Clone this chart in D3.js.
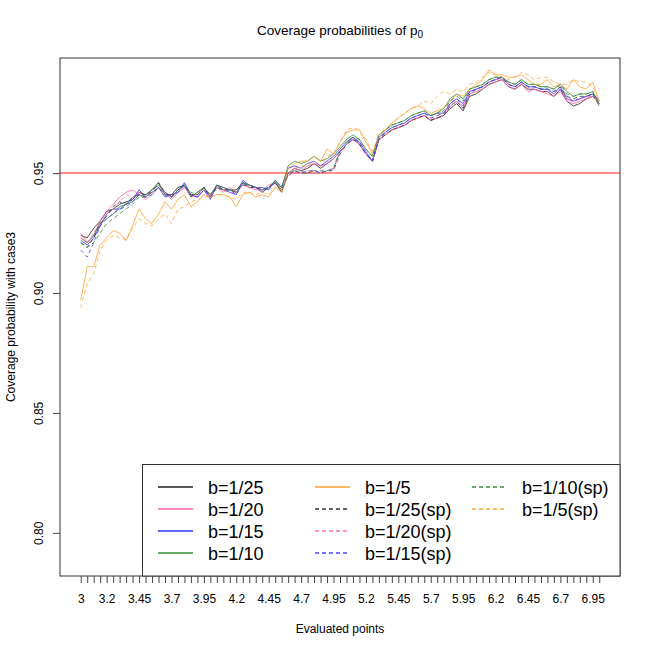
<!DOCTYPE html>
<html><head><meta charset="utf-8">
<script src="https://cdn.jsdelivr.net/npm/d3@7"></script>
<style>body{margin:0;background:#fff}svg{display:block;font-family:"Liberation Sans",Arial,Helvetica,sans-serif}</style>
</head><body>
<svg id="c" width="650" height="650"></svg>
<script>
const evalPoints = [3,3.05,3.1,3.15,3.2,3.25,3.3,3.35,3.4,3.45,3.5,3.55,3.6,3.65,3.7,3.75,3.8,3.85,3.9,3.95,
4,4.05,4.1,4.15,4.2,4.25,4.3,4.35,4.4,4.45,4.5,4.55,4.6,4.65,4.7,4.75,4.8,4.85,4.9,4.95,
5,5.05,5.1,5.15,5.2,5.25,5.3,5.35,5.4,5.45,5.5,5.55,5.6,5.65,5.7,5.75,5.8,5.85,5.9,5.95,
6,6.05,6.1,6.15,6.2,6.25,6.3,6.35,6.4,6.45,6.5,6.55,6.6,6.65,6.7,6.75,6.8,6.85,6.9,6.95,7];
const xTickLabels = ["3","3.2","3.45","3.7","3.95","4.2","4.45","4.7","4.95","5.2","5.45","5.7","5.95","6.2","6.45","6.7","6.95"];
const yTicks = [0.80,0.85,0.90,0.95];
const yTickLabels = ["0.80","0.85","0.90","0.95"];

// values in thousandths (value = n/1000)
const b25 = [924,923,927,930,934,935,937,938,939,942,941,943,946,941,941,944,945,940,942,944,940,945,944,943,943,946,944,944,942,944,946,942,950,952,951,952,954,952,954,956,959,962,965,962,958,955,964,966,968,969,970,972,973,974,972,973,974,977,979,976,982,983,985,987,988,989,986,985,987,985,985,984,984,982,985,980,978,979,981,982,979];
const b20 = [925,921,924,930,934,937,940,942,943,941,939,941,944,942,939,942,944,941,940,943,941,944,942,944,942,945,944,943,943,945,946,944,950,952,951,953,954,953,954,956,959,962,964,962,958,955,964,966,968,969,970,972,973,974,972,973,974,978,980,977,983,984,985,987,988,989,986,985,987,984,985,984,983,982,984,980,979,980,981,982,979];
const b15 = [922,920,923,928,933,935,935,937,939,943,940,942,944,940,941,942,946,941,940,943,939,945,943,942,941,947,945,944,944,943,947,944,952,953,952,954,955,953,955,957,960,963,965,963,959,955,965,967,969,970,971,973,974,975,974,975,975,979,981,979,984,985,986,988,989,990,987,986,988,986,986,985,985,983,986,981,980,981,982,983,980];
const b10 = [923,921,924,929,931,933,936,937,938,941,940,943,945,942,940,943,945,941,941,944,941,945,943,943,942,946,945,944,943,944,947,944,953,955,954,955,957,955,956,958,961,964,966,964,960,957,966,968,970,971,972,974,975,976,974,975,977,981,983,981,985,986,987,989,990,990,988,987,989,987,987,986,986,985,987,984,982,983,983,984,979];
const b5 = [897,911,911,920,923,926,925,922,928,935,931,929,933,938,935,939,941,936,938,941,940,941,941,940,936,941,942,940,941,940,944,942,952,954,955,955,957,955,960,958,963,967,968,968,963,958,965,968,971,973,975,977,978,977,975,976,977,980,983,982,985,987,989,993,991,991,990,990,991,989,987,987,989,986,987,985,989,986,985,988,980];
const b25sp = [921,919,923,929,932,936,938,937,940,941,941,942,946,942,940,943,945,941,941,944,940,944,943,943,942,945,945,944,943,944,946,943,949,951,950,950,951,950,951,951,958,962,964,962,958,955,964,966,968,969,970,972,973,974,972,973,974,978,980,977,983,985,986,988,989,990,987,986,988,986,986,985,985,984,986,982,981,982,982,983,978];
const b20sp = [923,921,925,930,933,935,938,941,940,942,940,942,944,941,940,942,944,940,941,943,940,944,943,942,942,945,944,944,943,944,946,943,949,950,950,951,950,951,950,951,959,962,964,962,958,955,964,966,968,969,970,972,973,974,973,974,975,978,980,978,983,984,986,988,989,989,987,986,987,985,985,984,984,983,985,981,980,981,982,982,979];
const b15sp = [918,915,921,928,931,933,935,936,938,941,940,941,944,941,940,942,945,941,940,943,940,944,943,943,941,946,945,944,943,944,946,943,950,951,950,951,951,950,951,952,959,962,964,963,958,955,964,967,969,970,971,973,974,975,973,974,975,979,981,978,984,985,986,988,989,990,987,986,988,986,986,985,985,984,985,982,980,981,982,983,980];
const b10sp = [921,919,921,925,929,931,933,935,937,940,940,942,944,941,940,943,945,942,941,944,941,945,943,943,942,946,945,944,943,944,946,943,950,951,951,950,951,951,951,952,960,963,965,964,960,957,966,968,970,971,972,974,975,976,974,975,976,980,982,980,985,986,987,989,990,990,988,987,989,987,987,986,986,985,987,983,982,983,983,984,978];
const b5sp = [894,904,908,918,922,924,923,922,927,931,929,928,931,933,929,935,936,938,939,940,940,941,941,940,939,942,942,941,942,941,944,943,950,952,953,953,955,953,957,958,963,968,969,968,964,959,966,968,971,973,975,977,978,980,979,982,984,983,985,984,987,988,990,992,991,990,989,990,992,991,989,990,990,988,987,987,989,988,988,986,980];

const seriesNames = ["b=1/25","b=1/20","b=1/15","b=1/10","b=1/5","b=1/25(sp)","b=1/20(sp)","b=1/15(sp)","b=1/10(sp)","b=1/5(sp)"];
const seriesData = [b25,b20,b15,b10,b5,b25sp,b20sp,b15sp,b10sp,b5sp];
const seriesColors = ["#222222","#ff5fa8","#3535ff","#2e8b2e","#ffa030",
  "#333333","#ff6fb4","#4545ff","#3a8a3a","#ffa840"];
const seriesDashed = [false,false,false,false,false,true,true,true,true,true];
const refLevel = 0.95;

const svg = d3.select("#c");
const L=60,R=620,T=58,B=576;
const x = d3.scaleLinear().domain([2.84,7.16]).range([L,R]);
const y = d3.scaleLinear().domain([0.782,0.998]).range([B,T]);

svg.append("defs").append("clipPath").attr("id","clip").append("rect")
  .attr("x",L).attr("y",T).attr("width",R-L).attr("height",B-T);

// reference line
svg.append("line").attr("x1",L).attr("x2",R).attr("y1",y(refLevel)).attr("y2",y(refLevel))
  .attr("stroke","rgba(255,0,0,0.45)").attr("stroke-width",2);

const line = d3.line().x((d,i)=>x(evalPoints[i])).y(d=>y(d/1000));
const g = svg.append("g").attr("clip-path","url(#clip)");
seriesData.forEach((s,k)=>{
  g.append("path").datum(s).attr("d",line).attr("fill","none")
    .attr("stroke",seriesColors[k]).attr("stroke-opacity",0.8).attr("stroke-width",1)
    .attr("stroke-dasharray",seriesDashed[k]?"4,3":null);
});

// box
svg.append("rect").attr("x",L).attr("y",T).attr("width",R-L).attr("height",B-T)
  .attr("fill","none").attr("stroke","#333").attr("stroke-width",1);

// x axis
const labelSet = new Set(xTickLabels);
const xAxis = d3.axisBottom(x).tickValues(evalPoints).tickSize(7).tickPadding(11)
  .tickFormat(d=>{const s=String(+d.toFixed(2)); return labelSet.has(s)?s:"";});
const gx = svg.append("g").attr("transform",`translate(0,${B})`).call(xAxis);
gx.select(".domain").remove();
gx.selectAll(".tick line").attr("stroke","#444");
gx.selectAll("text").attr("font-size",12).attr("fill","#000").attr("font-family","Liberation Sans, Arial, sans-serif");

// y axis
const yAxis = d3.axisLeft(y).tickValues(yTicks).tickSize(7).tickFormat((d,i)=>yTickLabels[i]);
const gy = svg.append("g").attr("transform",`translate(${L},0)`).call(yAxis);
gy.select(".domain").remove();
gy.selectAll(".tick line").attr("stroke","#444");
gy.selectAll("text").attr("font-size",12).attr("fill","#000").attr("font-family","Liberation Sans, Arial, sans-serif")
  .attr("text-anchor","middle").attr("x",0).attr("dy",0)
  .attr("transform","translate(-17,0) rotate(-90)");

// titles
const title = svg.append("text").attr("x",(L+R)/2).attr("y",35).attr("text-anchor","middle")
  .attr("font-size",13.5).attr("fill","#000");
title.append("tspan").text("Coverage probabilities of p");
title.append("tspan").attr("font-size",10).attr("dy",3).text("0");

svg.append("text").attr("x",(L+R)/2).attr("y",633).attr("text-anchor","middle")
  .attr("font-size",12).text("Evaluated points");
svg.append("text").attr("transform",`translate(15,${(T+B)/2}) rotate(-90)`).attr("text-anchor","middle")
  .attr("font-size",12).text("Coverage probability with case3");

// legend
const lg = svg.append("g");
lg.append("rect").attr("x",142.5).attr("y",464.5).attr("width",R-142.5).attr("height",B-464.5)
  .attr("fill","#fff").attr("stroke","#333").attr("stroke-width",1);
const colX = [158,315,472], rowY = [487,509,531,553];
seriesNames.forEach((n,k)=>{
  const c = Math.floor(k/4), r = k%4;
  const cx = colX[c], cy = rowY[r];
  lg.append("line").attr("x1",cx).attr("x2",cx+35).attr("y1",cy).attr("y2",cy)
    .attr("stroke",seriesColors[k]).attr("stroke-width",1.6)
    .attr("stroke-dasharray",seriesDashed[k]?"4,3":null);
  lg.append("text").attr("x",cx+50).attr("y",cy+7).attr("font-size",18).attr("fill","#000").text(n);
});
</script>
</body></html>
